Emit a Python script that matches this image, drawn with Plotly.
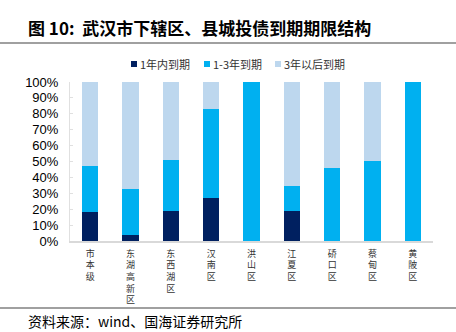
import plotly.graph_objects as go

categories = ["市本级", "东湖高新区", "东西湖区", "汉南区", "洪山区", "江夏区", "硚口区", "蔡甸区", "黄陂区"]
within_1y = [18, 3.5, 19, 27, 0, 19, 0, 0, 0]
y1_to_3 = [29, 29.3, 32, 56, 100, 15.5, 46, 50.5, 100]
after_3y = [53, 67.2, 49, 17, 0, 65.5, 54, 49.5, 0]
series_names = ["1年内到期", "1-3年到期", "3年以后到期"]
colors = ["#002060", "#00B0F0", "#BDD7EE"]
tick_text = ["<br>".join(list(c)) for c in categories]
y_ticks = list(range(0, 101, 10))

FONT = "Noto Sans CJK SC, Noto Sans, sans-serif"

fig = go.Figure()
for name, vals, col in zip(series_names, [within_1y, y1_to_3, after_3y], colors):
    fig.add_trace(go.Bar(x=categories, y=vals, name=name, marker=dict(color=col, line=dict(width=0)),
                         width=0.4, showlegend=False))

H = 159.0
W = 363.0
def py(p):
    return (241 - p) / H
def px(p):
    return (p - 70) / W

fig.update_layout(
    barmode="stack",
    width=456, height=332,
    margin=dict(l=70, r=23, t=82, b=91),
    paper_bgcolor="white", plot_bgcolor="white",
    font=dict(family=FONT, color="black", size=12),
    xaxis=dict(tickmode="array", tickvals=categories, ticktext=tick_text, tickangle=0,
               showline=True, linecolor="#d9d9d9", linewidth=1.5, ticks="",
               tickfont=dict(size=9, color="#333"), showgrid=False, ticklabelstandoff=3),
    yaxis=dict(range=[0, 100], tickvals=y_ticks, ticktext=[f"{v}%" for v in y_ticks],
               showgrid=False, showline=True, linecolor="#e0e0e0", linewidth=1,
               ticks="inside", ticklen=3, tickcolor="#e0e0e0", zeroline=False,
               tickfont=dict(size=13, color="black", family="Liberation Sans, Arial, sans-serif"),
               ticklabelstandoff=8),
    bargap=0.6,
)

# legend drawn from series names / colors
legend_sq_x = [131, 204, 275]
for name, col, lx in zip(series_names, colors, legend_sq_x):
    fig.add_shape(type="rect", xref="paper", yref="paper", x0=px(lx), x1=px(lx + 6),
                  y0=py(67), y1=py(61), fillcolor=col, line=dict(width=0))
    fig.add_annotation(text=name, xref="paper", yref="paper", x=px(lx + 7), y=py(64),
                       xanchor="left", yanchor="middle", showarrow=False,
                       font=dict(size=11, color="#333", family=FONT))

fig.add_annotation(text="<b>图 10:  武汉市下辖区、县城投债到期期限结构</b>", xref="paper", yref="paper",
                   x=px(26), y=py(27), xanchor="left", yanchor="middle", showarrow=False,
                   font=dict(size=17, color="black", family=FONT))
fig.add_annotation(text="资料来源：wind、国海证券研究所", xref="paper", yref="paper",
                   x=px(26), y=py(321), xanchor="left", yanchor="middle", showarrow=False,
                   font=dict(size=14, color="black", family=FONT))
fig.add_shape(type="line", xref="paper", yref="paper", x0=px(0), x1=px(456), y0=py(43), y1=py(43),
              line=dict(color="#808080", width=1.5))
fig.add_shape(type="line", xref="paper", yref="paper", x0=px(0), x1=px(456), y0=py(308), y1=py(308),
              line=dict(color="#808080", width=1.5))

fig.write_html("out.html")
